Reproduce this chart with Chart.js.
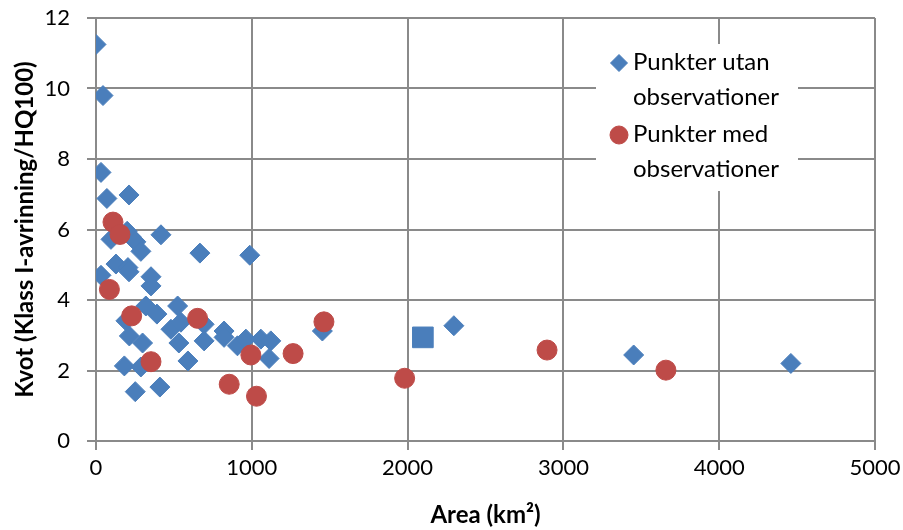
<!DOCTYPE html>
<html>
<head>
<meta charset="utf-8">
<script src="https://cdn.jsdelivr.net/npm/chart.js@4/dist/chart.umd.min.js"></script>
<style>
  html, body { margin: 0; padding: 0; background: #ffffff; }
  #wrap { width: 903px; height: 530px; }
</style>
</head>
<body>
<div id="wrap"><canvas id="c" width="903" height="530"></canvas></div>
<script>
// Area (km²) and ratio Klass I-avrinning / HQ100 per site
const utanArea = [0, 45, 32, 70, 212, 96, 200, 224, 256, 288, 417, 667, 987,
  128, 205, 212, 32, 353, 353, 320, 391, 524, 192, 481, 545, 214, 299, 532,
  182, 288, 590, 252, 410, 694, 694, 822, 822, 908, 962, 1058, 1122, 1111,
  1453, 2297, 3451, 4460];
const utanKvot = [11.25, 9.8, 7.62, 6.88, 6.98, 5.72, 5.95, 5.8, 5.65, 5.38, 5.85, 5.33, 5.27,
  5.02, 4.92, 4.8, 4.7, 4.66, 4.4, 3.83, 3.6, 3.83, 3.41, 3.17, 3.37, 2.98, 2.78, 2.78,
  2.13, 2.1, 2.27, 1.4, 1.53, 3.31, 2.84, 3.12, 2.94, 2.7, 2.89, 2.89, 2.84, 2.34,
  3.12, 3.27, 2.44, 2.2];

const medArea = [109, 154, 86, 229, 353, 652, 994, 855, 1030, 1265, 1463, 1981, 2895, 3658];
const medKvot = [6.21, 5.86, 4.3, 3.55, 2.25, 3.48, 2.44, 1.61, 1.27, 2.48, 3.38, 1.78, 2.58, 2.01];

// single highlighted site (square marker)
const markArea = [2098];
const markKvot = [2.94];

const xTicks = [0, 1000, 2000, 3000, 4000, 5000];
const yTicks = [0, 2, 4, 6, 8, 10, 12];

const seriesNames = ['Punkter utan observationer', 'Punkter med observationer'];

const BLUE = '#4A7EBB';
const RED = '#BE4B48';
const GRID = '#8a8a8a';
const FONT = 'Lato, "Open Sans", sans-serif';

const toPoints = (xs, ys) => xs.map((x, i) => ({ x: x, y: ys[i] }));

// legend drawn inside the plot area, on a white panel over the grid
const innerLegend = {
  id: 'innerLegend',
  afterDraw(chart) {
    const ctx = chart.ctx;
    ctx.save();
    ctx.fillStyle = '#ffffff';
    ctx.fillRect(596, 44, 202, 147);
    ctx.font = '24px ' + FONT;
    ctx.textBaseline = 'middle';
    ctx.textAlign = 'left';
    const lines = [
      ['Punkter utan', 'observationer'],
      ['Punkter med', 'observationer']
    ];
    const tops = [62, 134];
    const styles = [
      { style: 'rectRot', color: BLUE, r: 8.5 },
      { style: 'circle', color: RED, r: 9 }
    ];
    for (let i = 0; i < 2; i++) {
      const s = styles[i];
      ctx.fillStyle = s.color;
      ctx.strokeStyle = s.color;
      ctx.lineWidth = 1;
      Chart.helpers.drawPoint(ctx, { pointStyle: s.style, radius: s.r, borderWidth: 1, rotation: 0 },
        619, tops[i] + 1);
      ctx.fillStyle = '#000000';
      ctx.fillText(lines[i][0], 633, tops[i]);
      ctx.fillText(lines[i][1], 633, tops[i] + 35);
    }
    ctx.restore();
  }
};

new Chart(document.getElementById('c'), {
  type: 'scatter',
  data: {
    datasets: [
      {
        label: seriesNames[1],
        data: toPoints(medArea, medKvot),
        pointStyle: 'circle',
        pointRadius: 10,
        pointHoverRadius: 10,
        backgroundColor: RED,
        borderColor: RED,
        borderWidth: 1,
        order: 0
      },
      {
        label: seriesNames[0],
        data: toPoints(utanArea, utanKvot),
        pointStyle: 'rectRot',
        pointRadius: 10,
        pointHoverRadius: 10,
        backgroundColor: BLUE,
        borderColor: BLUE,
        borderWidth: 1,
        order: 1
      },
      {
        label: '',
        data: toPoints(markArea, markKvot),
        pointStyle: 'rect',
        pointRadius: 14.6,
        pointHoverRadius: 14.6,
        backgroundColor: BLUE,
        borderColor: BLUE,
        borderWidth: 1,
        order: 2
      }
    ]
  },
  options: {
    responsive: false,
    animation: false,
    devicePixelRatio: 1,
    layout: { autoPadding: false, padding: { left: 0, right: 28, top: 18, bottom: 0 } },
    plugins: {
      legend: { display: false },
      tooltip: { enabled: false }
    },
    scales: {
      x: {
        type: 'linear',
        min: 0,
        max: 5000,
        afterBuildTicks: (s) => { s.ticks = xTicks.map(v => ({ value: v })); },
        afterFit: (s) => {
          s.height = 89;
          s.paddingLeft = 0;
          s.paddingRight = 0;
        },
        grid: { color: GRID, lineWidth: 2, tickLength: 9, drawTicks: true },
        border: { color: GRID, width: 2 },
        ticks: {
          color: '#000000', font: { family: FONT, size: 22 }, padding: 5, maxRotation: 0,
          callback: (v) => String(v)
        },
        title: {
          display: true,
          text: 'Area (km²)',
          color: '#000000',
          font: { family: FONT, size: 24, weight: 'bold' },
          padding: { top: 0, bottom: 0 }
        }
      },
      y: {
        type: 'linear',
        min: 0,
        max: 12,
        afterBuildTicks: (s) => { s.ticks = yTicks.map(v => ({ value: v })); },
        afterFit: (s) => {
          s.width = 96;
          s.paddingTop = 0;
          s.paddingBottom = 0;
        },
        grid: { color: GRID, lineWidth: 2, tickLength: 9, drawTicks: true },
        border: { color: GRID, width: 2 },
        ticks: {
          color: '#000000', font: { family: FONT, size: 22 }, padding: 17,
          callback: (v) => String(v)
        },
        title: {
          display: true,
          text: 'Kvot (Klass I-avrinning/HQ100)',
          color: '#000000',
          font: { family: FONT, size: 24, weight: 'bold' },
          padding: { top: 11, bottom: 0 }
        }
      }
    }
  },
  plugins: [innerLegend]
});
</script>
</body>
</html>
